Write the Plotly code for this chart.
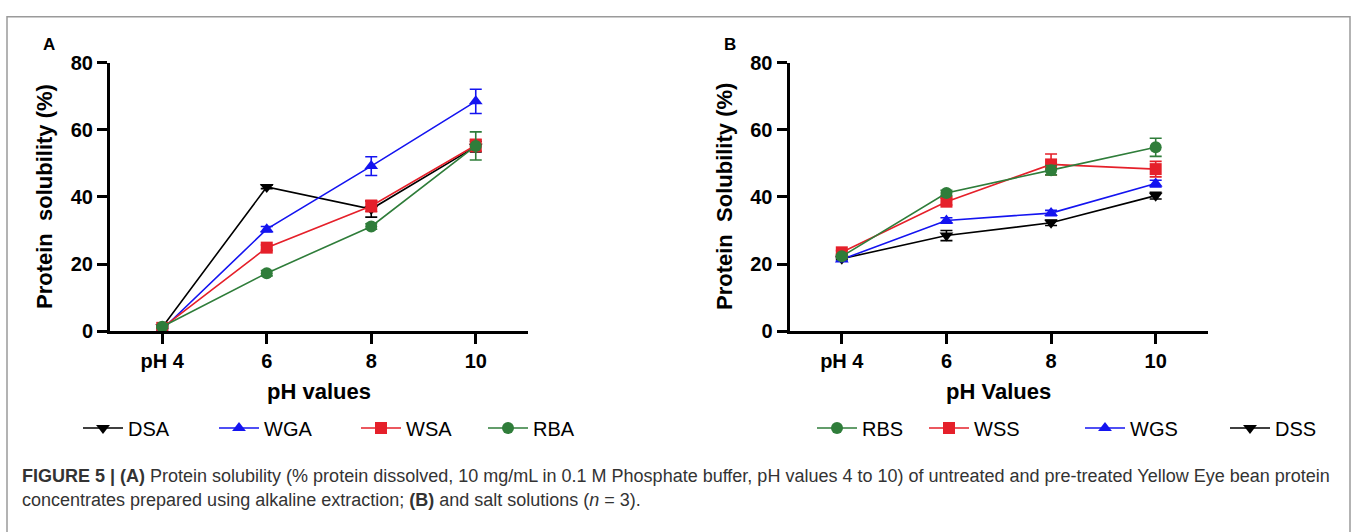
import plotly.graph_objects as go

W, H = 1357, 532

categories = ["pH 4", "6", "8", "10"]

# Panel A (alkaline extraction)
dsa = [1.2, 43.0, 36.4, 55.0]
dsa_err = [0.3, 0.5, 2.4, 1.6]
wga = [0.5, 30.4, 49.2, 68.5]
wga_err = [0.3, 0.8, 2.8, 3.6]
wsa = [1.0, 24.9, 37.3, 55.4]
wsa_err = [0.3, 0.8, 1.7, 1.8]
rba = [1.3, 17.3, 31.2, 55.2]
rba_err = [0.3, 0.8, 0.8, 4.2]

# Panel B (salt solutions)
rbs = [22.3, 41.2, 48.0, 54.8]
rbs_err = [0.5, 0.8, 1.4, 2.7]
wss = [23.5, 38.6, 49.7, 48.3]
wss_err = [0.5, 1.0, 3.1, 2.3]
wgs = [21.4, 33.0, 35.2, 44.0]
wgs_err = [0.5, 0.8, 0.8, 1.0]
dss = [21.6, 28.5, 32.3, 40.4]
dss_err = [0.3, 1.5, 0.8, 1.0]

BLACK = "#000000"
BLUE = "#1414f0"
RED = "#e5202a"
GREEN = "#2f7d3a"

FONT = "Liberation Sans, Arial, Helvetica, sans-serif"

def px_x(p):
    return p / W

def px_y(p):
    return 1 - p / H

fig = go.Figure()

def add(name, y, err, color, symbol, xa, ya, legend):
    fig.add_trace(go.Scatter(
        x=categories, y=y, name=name, mode="lines+markers",
        xaxis=xa, yaxis=ya, legend=legend, showlegend=True,
        line=dict(color=color, width=1.6),
        marker=dict(color=color, symbol=symbol, size=12, line=dict(width=0)),
        error_y=dict(type="data", array=err, visible=True, color=color,
                     thickness=1.6, width=6),
        cliponaxis=False,
    ))

add("DSA", dsa, dsa_err, BLACK, "triangle-down", "x", "y", "legend")
add("WGA", wga, wga_err, BLUE, "triangle-up", "x", "y", "legend2")
add("WSA", wsa, wsa_err, RED, "square", "x", "y", "legend3")
add("RBA", rba, rba_err, GREEN, "circle", "x", "y", "legend4")

add("DSS", dss, dss_err, BLACK, "triangle-down", "x2", "y2", "legend8")
add("WGS", wgs, wgs_err, BLUE, "triangle-up", "x2", "y2", "legend7")
add("WSS", wss, wss_err, RED, "square", "x2", "y2", "legend6")
add("RBS", rbs, rbs_err, GREEN, "circle", "x2", "y2", "legend5")

tickfont = dict(family=FONT, size=20, color="black", weight="bold")

def xaxis(domain, anchor):
    return dict(domain=domain, anchor=anchor, type="category",
                range=[-0.5, 3.5], showline=True, linewidth=3, linecolor="black",
                ticks="outside", ticklen=10, tickwidth=2.5, tickcolor="black",
                tickfont=tickfont, showgrid=False, zeroline=False)

def yaxis(domain, anchor):
    return dict(domain=domain, anchor=anchor, range=[0, 80], dtick=20,
                showline=True, linewidth=3, linecolor="black",
                ticks="outside", ticklen=10, tickwidth=2.5, tickcolor="black",
                tickfont=tickfont, showgrid=False, zeroline=False)

ydom = [px_y(334), px_y(54)]
layout = dict(
    width=W, height=H,
    margin=dict(l=0, r=0, t=0, b=0),
    paper_bgcolor="white", plot_bgcolor="white",
    font=dict(family=FONT, color="black"),
    showlegend=True,
    xaxis=xaxis([px_x(110), px_x(528)], "y"),
    yaxis=yaxis(ydom, "x"),
    xaxis2=xaxis([px_x(789.5), px_x(1208)], "y2"),
    yaxis2=yaxis(ydom, "x2"),
)

# one legend per entry, placed like the reference
leg_text_px = {
    "legend": 128, "legend2": 264, "legend3": 406, "legend4": 533,
    "legend5": 862, "legend6": 974, "legend7": 1130, "legend8": 1275,
}
for key, tx in leg_text_px.items():
    layout[key] = dict(
        x=px_x(tx - 50), y=px_y(435), xanchor="left", yanchor="middle",
        orientation="h", bgcolor="rgba(0,0,0,0)", borderwidth=0, visible=True,
        itemwidth=40, font=dict(family=FONT, size=20, color="black"),
    )

fig.update_layout(**layout)

annotations = [
    dict(text="A", x=px_x(49), y=px_y(35), font=dict(size=17, weight="bold")),
    dict(text="B", x=px_x(730), y=px_y(35), font=dict(size=17, weight="bold")),
    dict(text="pH values", x=px_x(319), y=px_y(397), font=dict(size=22, weight="bold")),
    dict(text="pH Values", x=px_x(998.7), y=px_y(397), font=dict(size=22, weight="bold")),
    dict(text="Protein  solubility (%)", x=px_x(45), y=px_y(194), textangle=-90,
         font=dict(size=22, weight="bold")),
    dict(text="Protein  Solubility (%)", x=px_x(725), y=px_y(194), textangle=-90,
         font=dict(size=22, weight="bold")),
]
for a in annotations:
    a.update(xref="paper", yref="paper", showarrow=False,
             xanchor="center", yanchor="middle")
    a["font"] = dict(family=FONT, color="black", **a["font"])
    fig.add_annotation(**a)

cap_font = dict(family=FONT, size=18, color="#333333")
fig.add_annotation(
    text="<b>FIGURE 5 | (A)</b> Protein solubility (% protein dissolved, 10 mg/mL in 0.1 M Phosphate buffer, "
         "pH values 4 to 10) of untreated and pre-treated Yellow Eye bean protein",
    x=px_x(20), y=px_y(485), xref="paper", yref="paper", showarrow=False,
    xanchor="left", yanchor="middle", font=cap_font)
fig.add_annotation(
    text="concentrates prepared using alkaline extraction; <b>(B)</b> and salt solutions (<i>n</i> = 3).",
    x=px_x(20), y=px_y(510), xref="paper", yref="paper", showarrow=False,
    xanchor="left", yanchor="middle", font=cap_font)

fig.add_shape(type="rect", xref="paper", yref="paper",
              x0=px_x(7), x1=px_x(1350), y0=px_y(545), y1=px_y(6),
              line=dict(color="#9a9a9a", width=1.5), fillcolor="rgba(0,0,0,0)")

fig.write_html("out.html", post_script="document.body.style.margin='0';")
